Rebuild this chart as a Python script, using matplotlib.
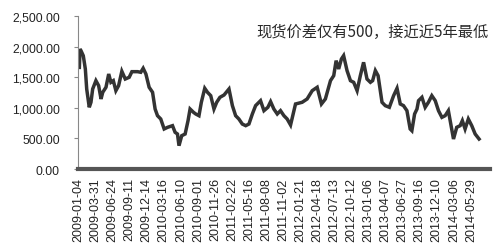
import matplotlib
matplotlib.use('Agg')
import matplotlib.pyplot as plt

# tick labels on the category axis (evenly spaced)
date_labels = ['2009-01-04', '2009-03-31', '2009-06-24', '2009-09-11', '2009-12-14',
               '2010-03-16', '2010-06-10', '2010-09-01', '2010-11-26', '2011-02-22',
               '2011-05-16', '2011-08-08', '2011-11-02', '2012-01-21', '2012-04-18',
               '2012-07-13', '2012-10-12', '2013-01-06', '2013-04-07', '2013-06-27',
               '2013-09-16', '2013-12-10', '2014-03-06', '2014-05-29']

# position of each sample in tick units, and the spot spread
pos = [0.05, 0.09, 0.15, 0.28, 0.40, 0.48, 0.63, 0.73, 0.83, 1.02,
       1.18, 1.32, 1.42, 1.61, 1.77, 1.90, 2.04, 2.19, 2.35, 2.54,
       2.74, 2.97, 3.13, 3.46, 3.65, 3.79, 3.95, 4.14, 4.34, 4.49,
       4.63, 4.82, 5.02, 5.22, 5.51, 5.66, 5.80, 5.89, 6.05, 6.25,
       6.42, 6.54, 6.74, 6.87, 7.06, 7.20, 7.40, 7.56, 7.75, 7.94,
       8.10, 8.29, 8.53, 8.82, 9.02, 9.21, 9.40, 9.60, 9.80, 9.99,
       10.19, 10.38, 10.67, 10.87, 11.10, 11.26, 11.45, 11.65, 11.84, 12.04,
       12.23, 12.43, 12.72, 13.11, 13.40, 13.70, 13.99, 14.24, 14.47, 14.77,
       14.96, 15.10, 15.25, 15.41, 15.54, 15.74, 15.94, 16.13, 16.33, 16.52,
       16.71, 16.91, 17.11, 17.24, 17.40, 17.56, 17.79, 17.98, 18.22, 18.47,
       18.67, 18.86, 19.05, 19.25, 19.44, 19.54, 19.70, 19.84, 19.93, 20.13,
       20.32, 20.51, 20.71, 20.91, 21.10, 21.30, 21.49, 21.68, 21.84, 21.98,
       22.17, 22.37, 22.50, 22.66, 22.85, 23.05, 23.25, 23.48]
spread = [1660, 1960, 1930, 1850, 1634, 1307, 1008, 1090, 1307, 1443,
          1361, 1144, 1253, 1335, 1552, 1416, 1443, 1280, 1361, 1596,
          1470, 1498, 1590, 1590, 1580, 1645, 1552, 1335, 1253, 980,
          871, 817, 654, 681, 708, 600, 572, 381, 544, 572,
          790, 980, 926, 899, 871, 1090, 1318, 1253, 1198, 980,
          1090, 1171, 1209, 1307, 1035, 871, 817, 735, 708, 735,
          899, 1035, 1116, 953, 1008, 1100, 980, 899, 953, 871,
          817, 719, 1062, 1090, 1144, 1280, 1335, 1062, 1144, 1443,
          1525, 1770, 1634, 1797, 1852, 1607, 1443, 1416, 1280, 1525,
          1743, 1470, 1416, 1443, 1607, 1525, 1090, 1035, 1008, 1198,
          1318, 1062, 1035, 953, 654, 626, 899, 980, 1116, 1171,
          1008, 1090, 1198, 1116, 953, 844, 871, 953, 708, 490,
          681, 708, 790, 654, 817, 708, 572, 490]

yticks = [0, 500, 1000, 1500, 2000, 2500]

plt.rcParams['font.family'] = ['Liberation Sans', 'DejaVu Sans']

fig = plt.figure(figsize=(5.0, 2.53), dpi=100)
ax = fig.add_axes([0.156, 0.328, 0.824, 0.605])

ax.plot(pos, spread, color='#333333', linewidth=2.5, solid_joinstyle='miter')

ax.set_ylim(0, 2500)
ax.set_xlim(-0.03, 24.12)
ax.set_yticks(yticks)
ax.set_yticklabels(['{:,.2f}'.format(v) for v in yticks], fontsize=8.7, color='#222222')
ax.set_xticks(range(len(date_labels)))
ax.set_xticklabels(date_labels, rotation=90, fontsize=9, color='#222222')

for side in ['top', 'right']:
    ax.spines[side].set_visible(False)
ax.spines['left'].set_color('#888888')
ax.spines['left'].set_linewidth(0.8)
ax.spines['bottom'].set_color('#555555')
ax.spines['bottom'].set_linewidth(3)
ax.tick_params(axis='y', length=3, color='#888888', pad=10)
ax.tick_params(axis='x', length=0, pad=6)

fig.text(0.744, 0.873, '现货价差仅有500，接近近5年最低', ha='center', va='center',
         fontsize=11, color='#2a2a2a', family=['Noto Sans CJK SC', 'DejaVu Sans'])

fig.savefig('out.png', dpi=100, facecolor='white')
